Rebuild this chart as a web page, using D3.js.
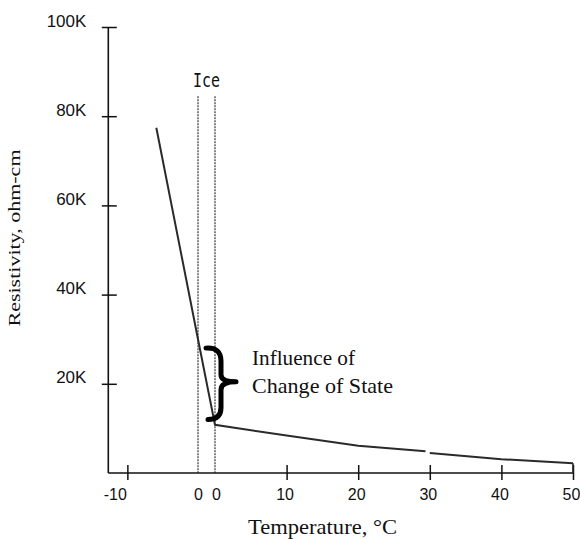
<!DOCTYPE html>
<html>
<head>
<meta charset="utf-8">
<script src="https://cdn.jsdelivr.net/npm/d3@7"></script>
<style>
  body { margin: 0; background: #fff; }
  svg { display: block; }
</style>
</head>
<body>
<div id="chart"></div>
<script>
// resistivity of water / ice vs temperature, axis broken at 0 degC

// ice side (left of the break)
let iceTemps = [-5.9, 0]
let iceRes = [77400, 30000]

// water side (right of the break), null = small gap in the drawn line
let waterTemps = [0, 10, 20, 29.4, 29.7, 30, 40, 50]
let waterRes = [10800, 8400, 6100, 4900, null, 4500, 3100, 2200]

let iceTicks = [-10, 0]
let waterTicks = [0, 10, 20, 30, 40, 50]
let yTicks = [20000, 40000, 60000, 80000, 100000]
let yTickLabels = ["20K", "40K", "60K", "80K", "100K"]

// brace around the jump at the change of state
let braceTop = 28000
let braceBottom = 12000

let svg = d3.select("#chart").append("svg")
  .attr("width", 580)
  .attr("height", 539)

let iceX = d3.scaleLinear().domain([-12.7, 0]).range([108.3, 198])
let waterX = d3.scaleLinear().domain([0, 50]).range([215, 573])
let y = d3.scaleLinear().domain([0, 100000]).range([473, 27])

// ---- axes ----
let axisColor = "#111"

// y axis
let yAxis = svg.append("g")
  .attr("transform", "translate(" + iceX(-12.7) + ",0)")
  .call(d3.axisLeft(y)
    .tickValues(yTicks)
    .tickFormat((d, i) => yTickLabels[i])
    .tickSize(0))
yAxis.select(".domain").remove()
yAxis.selectAll(".tick line")
  .attr("x1", -6.5).attr("x2", 8.5)
  .attr("stroke", axisColor).attr("stroke-width", 1.5)
yAxis.selectAll(".tick text")
  .attr("x", 0).attr("dy", 0)
  .attr("text-anchor", "end")
  .attr("transform", "translate(-22,-1) scale(1.06,1.05)")
  .attr("font-family", "Liberation Sans, Arial, sans-serif")
  .attr("font-size", 16)
  .attr("fill", "#111")

svg.append("line")
  .attr("x1", iceX(-12.7)).attr("x2", iceX(-12.7))
  .attr("y1", y(100000)).attr("y2", y(0))
  .attr("stroke", axisColor).attr("stroke-width", 1.6)

// x axis line across both sides
svg.append("line")
  .attr("x1", iceX(-12.7)).attr("x2", waterX(50))
  .attr("y1", y(0)).attr("y2", y(0))
  .attr("stroke", axisColor).attr("stroke-width", 1.6)

function styleXAxis(g) {
  g.select(".domain").remove()
  g.selectAll(".tick line")
    .attr("y1", -8).attr("y2", 7)
    .attr("stroke", axisColor).attr("stroke-width", 1.5)
    .filter(d => d === 0).remove()
  g.selectAll(".tick text")
    .attr("y", 27).attr("dy", 0).attr("dx", -2)
    .attr("font-family", "Liberation Sans, Arial, sans-serif")
    .attr("font-size", 16)
    .attr("fill", "#111")
}

let iceAxis = svg.append("g")
  .attr("transform", "translate(0," + y(0) + ")")
  .call(d3.axisBottom(iceX).tickValues(iceTicks).tickFormat(d => String(d)).tickSize(0))
styleXAxis(iceAxis)
iceAxis.selectAll(".tick text")
  .filter(d => d < 0)
  .attr("text-anchor", "end").attr("dx", 0).attr("x", -1)
iceAxis.selectAll(".tick text")
  .filter(d => d === 0)
  .attr("dx", 0)

let waterAxis = svg.append("g")
  .attr("transform", "translate(0," + y(0) + ")")
  .call(d3.axisBottom(waterX).tickValues(waterTicks).tickFormat(d => String(d)).tickSize(0))
styleXAxis(waterAxis)
waterAxis.selectAll(".tick text")
  .filter(d => d === 0)
  .attr("dx", 1)

// last tick at 50 runs up to the end of the curve
let lastI = waterTemps.length - 1
svg.append("line")
  .attr("x1", waterX(waterTemps[lastI])).attr("x2", waterX(waterTemps[lastI]))
  .attr("y1", y(waterRes[lastI])).attr("y2", y(0))
  .attr("stroke", "#222").attr("stroke-width", 1.6)

// ---- dotted lines marking 0 on each side ----
let zeroLines = [iceX(0), waterX(0)]
svg.selectAll(".zero")
  .data(zeroLines)
  .enter()
  .append("line")
  .attr("class", "zero")
  .attr("x1", d => d).attr("x2", d => d)
  .attr("y1", y(84500)).attr("y2", y(0))
  .attr("stroke", "#222")
  .attr("stroke-width", 1.1)
  .attr("stroke-dasharray", "2,1")

// ---- the curve ----
let pts = []
iceTemps.forEach((t, i) => pts.push({ px: iceX(t), r: iceRes[i] }))
waterTemps.forEach((t, i) => pts.push({ px: waterX(t), r: waterRes[i] }))

let line = d3.line()
  .defined(d => d.r != null)
  .x(d => d.px)
  .y(d => y(d.r))

svg.append("path")
  .datum(pts)
  .attr("d", line)
  .attr("fill", "none")
  .attr("stroke", "#2a2a2a")
  .attr("stroke-width", 2)

// ---- brace ----
let bx = waterX(0)
let yt = y(braceTop), yb = y(braceBottom), ym = (yt + yb) / 2 - 2
let brace = d3.path()
brace.moveTo(bx - 9, yt)
brace.quadraticCurveTo(bx + 6, yt - 1, bx + 6, yt + 13)
brace.lineTo(bx + 6, ym - 7)
brace.quadraticCurveTo(bx + 6, ym, bx + 21, ym)
brace.quadraticCurveTo(bx + 6, ym, bx + 6, ym + 8)
brace.lineTo(bx + 6, yb - 12)
brace.quadraticCurveTo(bx + 6, yb, bx - 7, yb)
svg.append("path")
  .attr("d", brace.toString())
  .attr("fill", "none")
  .attr("stroke", "#000")
  .attr("stroke-width", 5)
  .attr("stroke-linecap", "round")
  .attr("stroke-linejoin", "round")

// ---- text labels ----
let serif = "Liberation Serif, Times New Roman, serif"

svg.append("text")
  .attr("x", 252).attr("y", 365)
  .attr("font-family", serif).attr("font-size", 21)
  .attr("textLength", 103).attr("lengthAdjust", "spacingAndGlyphs")
  .attr("fill", "#111")
  .text("Influence of")

svg.append("text")
  .attr("x", 252).attr("y", 393)
  .attr("font-family", serif).attr("font-size", 21)
  .attr("textLength", 141).attr("lengthAdjust", "spacingAndGlyphs")
  .attr("fill", "#111")
  .text("Change of State")

svg.append("text")
  .attr("x", (iceX(0) + waterX(0)) / 2).attr("y", 87)
  .attr("text-anchor", "middle")
  .attr("font-family", "DejaVu Sans Mono, monospace").attr("font-size", 20)
  .attr("textLength", 27).attr("lengthAdjust", "spacingAndGlyphs")
  .attr("fill", "#111")
  .text("Ice")

svg.append("text")
  .attr("x", 248).attr("y", 534)
  .attr("font-family", serif).attr("font-size", 22)
  .attr("textLength", 149).attr("lengthAdjust", "spacingAndGlyphs")
  .attr("fill", "#111")
  .text("Temperature, °C")

svg.append("text")
  .attr("transform", "translate(20,238) rotate(-90)")
  .attr("text-anchor", "middle")
  .attr("font-family", serif).attr("font-size", 17)
  .attr("textLength", 177).attr("lengthAdjust", "spacingAndGlyphs")
  .attr("fill", "#111")
  .text("Resistivity, ohm-cm")
</script>
</body>
</html>
